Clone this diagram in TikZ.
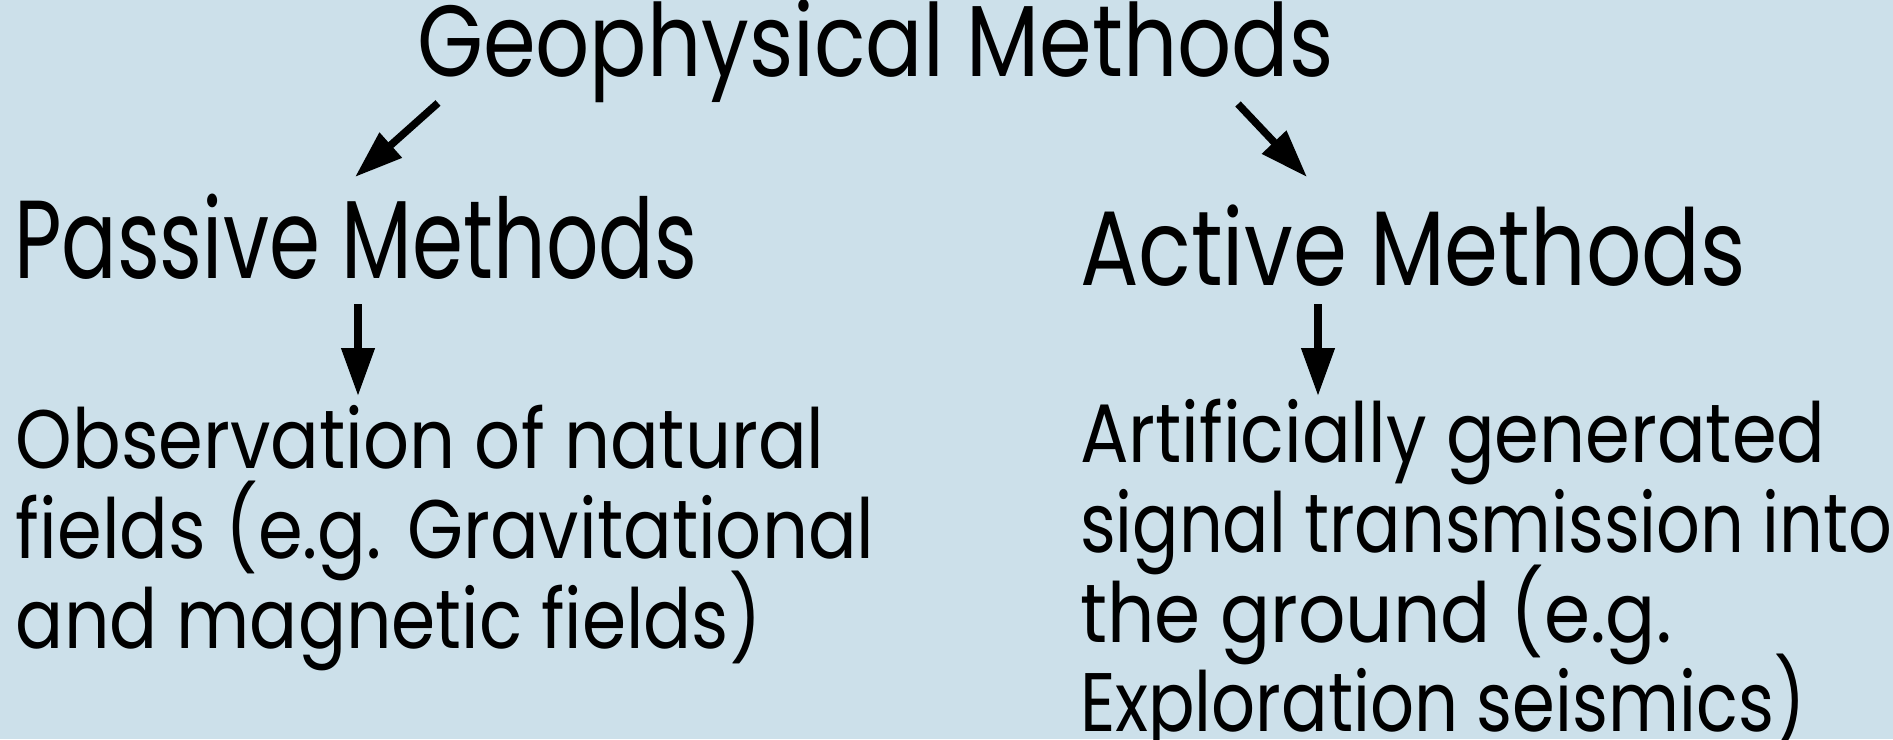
\documentclass[tikz,border=0pt]{standalone}
\usepackage{fontspec}
\setmainfont{Poppins}
\newfontfamily\ttlfont[FakeStretch=0.84]{Poppins}
\newfontfamily\pasfont[FakeStretch=0.74]{Poppins}
\newfontfamily\actfont[FakeStretch=0.82]{Poppins}
\newfontfamily\bodyA[FakeStretch=0.868]{Poppins}
\newfontfamily\bodyB[FakeStretch=0.826]{Poppins}
\newfontfamily\bodyC[FakeStretch=0.894]{Poppins}
\newfontfamily\bodyD[FakeStretch=0.857]{Poppins}
\newfontfamily\bodyE[FakeStretch=0.83]{Poppins}
\usetikzlibrary{arrows.meta}
\definecolor{bgblue}{RGB}{204,224,234}
\tikzset{
  lbl/.style={inner sep=0pt, outer sep=0pt, text=black},
  ttl/.style={lbl, font=\ttlfont\fontsize{101}{110}\selectfont},
  pashead/.style={lbl, font=\pasfont\fontsize{111}{120}\selectfont},
  acthead/.style={lbl, font=\actfont\fontsize{106}{120}\selectfont},
  body/.style={lbl, font=\bodyA\fontsize{83}{90}\selectfont},
  bodyb/.style={lbl, font=\bodyB\fontsize{83}{90}\selectfont},
  bodyc/.style={lbl, font=\bodyC\fontsize{83}{90}\selectfont},
  bodyd/.style={lbl, font=\bodyD\fontsize{83}{90}\selectfont},
  bodye/.style={lbl, font=\bodyE\fontsize{83}{90}\selectfont},
  arr/.style={line width=7.5pt, -{Triangle[length=48pt,width=32pt]}},
}
\begin{document}
\begin{tikzpicture}[x=1pt,y=-1pt]
\fill[bgblue] (0,0) rectangle (1893,739);
\useasboundingbox (0,0) rectangle (1893,739);
\node[ttl, anchor=base west] (geo) at (417,76) {Geophysical Methods};
\node[pashead, anchor=base west] (pas) at (14,278) {Passive Methods};
\node[acthead, anchor=base west] (act) at (1080,285) {Active Methods};
\node[body, anchor=base west] (obs) at (16,468) {Observation of natural};
\node[body, anchor=base west] (obs2) at (16,558) {fields (e.g. Gravitational};
\node[bodyd, anchor=base west] (obs3) at (16,648) {and magnetic fields)};
\node[body, anchor=base west] (art) at (1080,462) {Artificially generated};
\node[bodyb, anchor=base west] (art2) at (1080,552) {signal transmission into};
\node[bodyc, anchor=base west] (art3) at (1080,642) {the ground (e.g.};
\node[bodye, anchor=base west] (art4) at (1080,731) {Exploration seismics)};
\coordinate (a1s) at (438,103);
\coordinate (a1e) at (355,177);
\coordinate (a2s) at (1238,104);
\coordinate (a2e) at (1307,177);
\coordinate (a3s) at (358,304);
\coordinate (a3e) at (358,396);
\coordinate (a4s) at (1318,304);
\coordinate (a4e) at (1318,396);
\draw[arr] (a1s) -- (a1e);
\draw[arr] (a2s) -- (a2e);
\draw[arr] (a3s) -- (a3e);
\draw[arr] (a4s) -- (a4e);
\end{tikzpicture}
\end{document}
